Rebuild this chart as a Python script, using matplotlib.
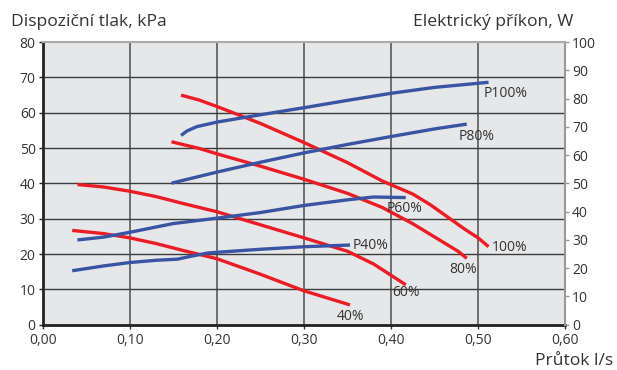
import matplotlib.pyplot as plt

plt.rcParams['font.family'] = ['Open Sans', 'DejaVu Sans']

# pressure curves (left axis, kPa)
p100_x = [0.159, 0.18, 0.20, 0.22, 0.25, 0.30, 0.35, 0.39, 0.425, 0.445, 0.465, 0.485, 0.50, 0.512]
p100_y = [65.0, 63.6, 61.8, 59.9, 57.0, 51.6, 45.9, 40.7, 37.0, 34.0, 30.5, 27.0, 24.6, 22.1]
p80_x = [0.148, 0.18, 0.20, 0.25, 0.30, 0.35, 0.39, 0.425, 0.445, 0.465, 0.477, 0.487]
p80_y = [51.8, 49.9, 48.4, 44.9, 41.2, 37.2, 33.2, 28.6, 25.6, 22.6, 20.8, 18.8]
p60_x = [0.04, 0.07, 0.10, 0.13, 0.16, 0.20, 0.25, 0.30, 0.35, 0.38, 0.417]
p60_y = [39.7, 39.0, 37.8, 36.3, 34.4, 32.0, 28.3, 24.6, 20.8, 17.2, 11.3]
p40_x = [0.034, 0.07, 0.10, 0.13, 0.16, 0.20, 0.25, 0.30, 0.353]
p40_y = [26.7, 25.8, 24.6, 23.0, 21.1, 18.7, 14.3, 9.6, 5.6]

# power curves (right axis, W)
w100_x = [0.159, 0.166, 0.177, 0.20, 0.25, 0.30, 0.35, 0.40, 0.45, 0.512]
w100_y = [67.0, 68.6, 70.1, 71.7, 74.3, 76.8, 79.4, 81.9, 84.0, 85.8]
w80_x = [0.148, 0.20, 0.25, 0.30, 0.35, 0.40, 0.45, 0.487]
w80_y = [50.1, 54.0, 57.5, 60.8, 63.8, 66.6, 69.3, 71.0]
w60_x = [0.04, 0.07, 0.10, 0.15, 0.20, 0.25, 0.30, 0.35, 0.38, 0.417]
w60_y = [30.0, 31.0, 32.7, 35.8, 37.7, 39.7, 42.2, 44.2, 45.2, 45.0]
w40_x = [0.034, 0.07, 0.10, 0.13, 0.155, 0.17, 0.19, 0.25, 0.30, 0.353]
w40_y = [19.1, 20.8, 22.0, 22.8, 23.2, 24.2, 25.4, 26.7, 27.6, 28.2]

red = '#ec1c24'
blue = '#3a54a4'
txt = '#333333'

fig = plt.figure(figsize=(6.17, 3.70), dpi=100)
ax = fig.add_axes([0.069, 0.1224, 0.847, 0.7636])
ax2 = ax.twinx()

ax.set_facecolor('#e6e7e9')
ax.set_xlim(0, 0.6)
ax.set_ylim(0, 80)
ax2.set_ylim(0, 100)
ax.set_xticks([i / 10 for i in range(7)])
ax.set_xticklabels(['0,00', '0,10', '0,20', '0,30', '0,40', '0,50', '0,60'])
ax.set_yticks(range(0, 81, 10))
ax2.set_yticks(range(0, 101, 10))

for x in [0.1, 0.2, 0.3, 0.4, 0.5]:
    ax.axvline(x, color='#5a5a5a', lw=1.2, zorder=1)
for y in range(10, 80, 10):
    ax.axhline(y, color='#3c3c3c', lw=1.0, zorder=1)

lw = 2.4
for xs, ys in [(p100_x, p100_y), (p80_x, p80_y), (p60_x, p60_y), (p40_x, p40_y)]:
    ax.plot(xs, ys, color=red, lw=lw, zorder=3, solid_capstyle='butt', solid_joinstyle='round')
for xs, ys in [(w100_x, w100_y), (w80_x, w80_y), (w60_x, w60_y), (w40_x, w40_y)]:
    ax2.plot(xs, ys, color=blue, lw=lw, solid_capstyle='butt', solid_joinstyle='round')

fs = 10
lab = dict(textcoords='offset pixels', fontsize=fs, color=txt, va='center', ha='left')
ax2.annotate('P100%', (w100_x[-1], w100_y[-1]), xytext=(-5, -11), **lab)
ax2.annotate('P80%', (w80_x[-1], w80_y[-1]), xytext=(-8, -12), **lab)
ax2.annotate('P60%', (w60_x[-1], w60_y[-1]), xytext=(-19, -11), **lab)
ax2.annotate('P40%', (w40_x[-1], w40_y[-1]), xytext=(3, 0), **lab)
ax.annotate('100%', (p100_x[-1], p100_y[-1]), xytext=(3, -1), **lab)
ax.annotate('80%', (p80_x[-1], p80_y[-1]), xytext=(-17, -11), **lab)
ax.annotate('60%', (p60_x[-1], p60_y[-1]), xytext=(-14, -8), **lab)
ax.annotate('40%', (p40_x[-1], p40_y[-1]), xytext=(-13, -12), **lab)

for a in (ax, ax2):
    for s in a.spines.values():
        s.set_visible(False)
ax.spines['left'].set_visible(True)
ax.spines['left'].set_color('#222222')
ax.spines['left'].set_linewidth(2)
ax.spines['bottom'].set_visible(True)
ax.spines['bottom'].set_color('#222222')
ax.spines['bottom'].set_linewidth(2)
ax2.spines['right'].set_visible(True)
ax2.spines['right'].set_color('#999999')
ax2.spines['right'].set_linewidth(1.5)
ax2.spines['top'].set_visible(True)
ax2.spines['top'].set_color('#aaaaaa')
ax2.spines['top'].set_linewidth(1.5)

ax.tick_params(axis='both', labelsize=fs, colors=txt, length=3, width=1, pad=2)
ax.tick_params(axis='y', color='#222222')
ax.tick_params(axis='x', pad=3)
ax2.tick_params(axis='y', labelsize=fs, colors=txt, length=3, width=1, pad=2, color='#999999')

fig.text(0.018, 0.930, 'Dispoziční tlak, kPa', fontsize=12.6, color=txt, ha='left', va='baseline')
fig.text(0.929, 0.930, 'Elektrický příkon, W', fontsize=12.6, color=txt, ha='right', va='baseline')
fig.text(0.994, 0.013, 'Průtok l/s', fontsize=12.6, color=txt, ha='right', va='baseline')

fig.savefig('out.png', dpi=100)
